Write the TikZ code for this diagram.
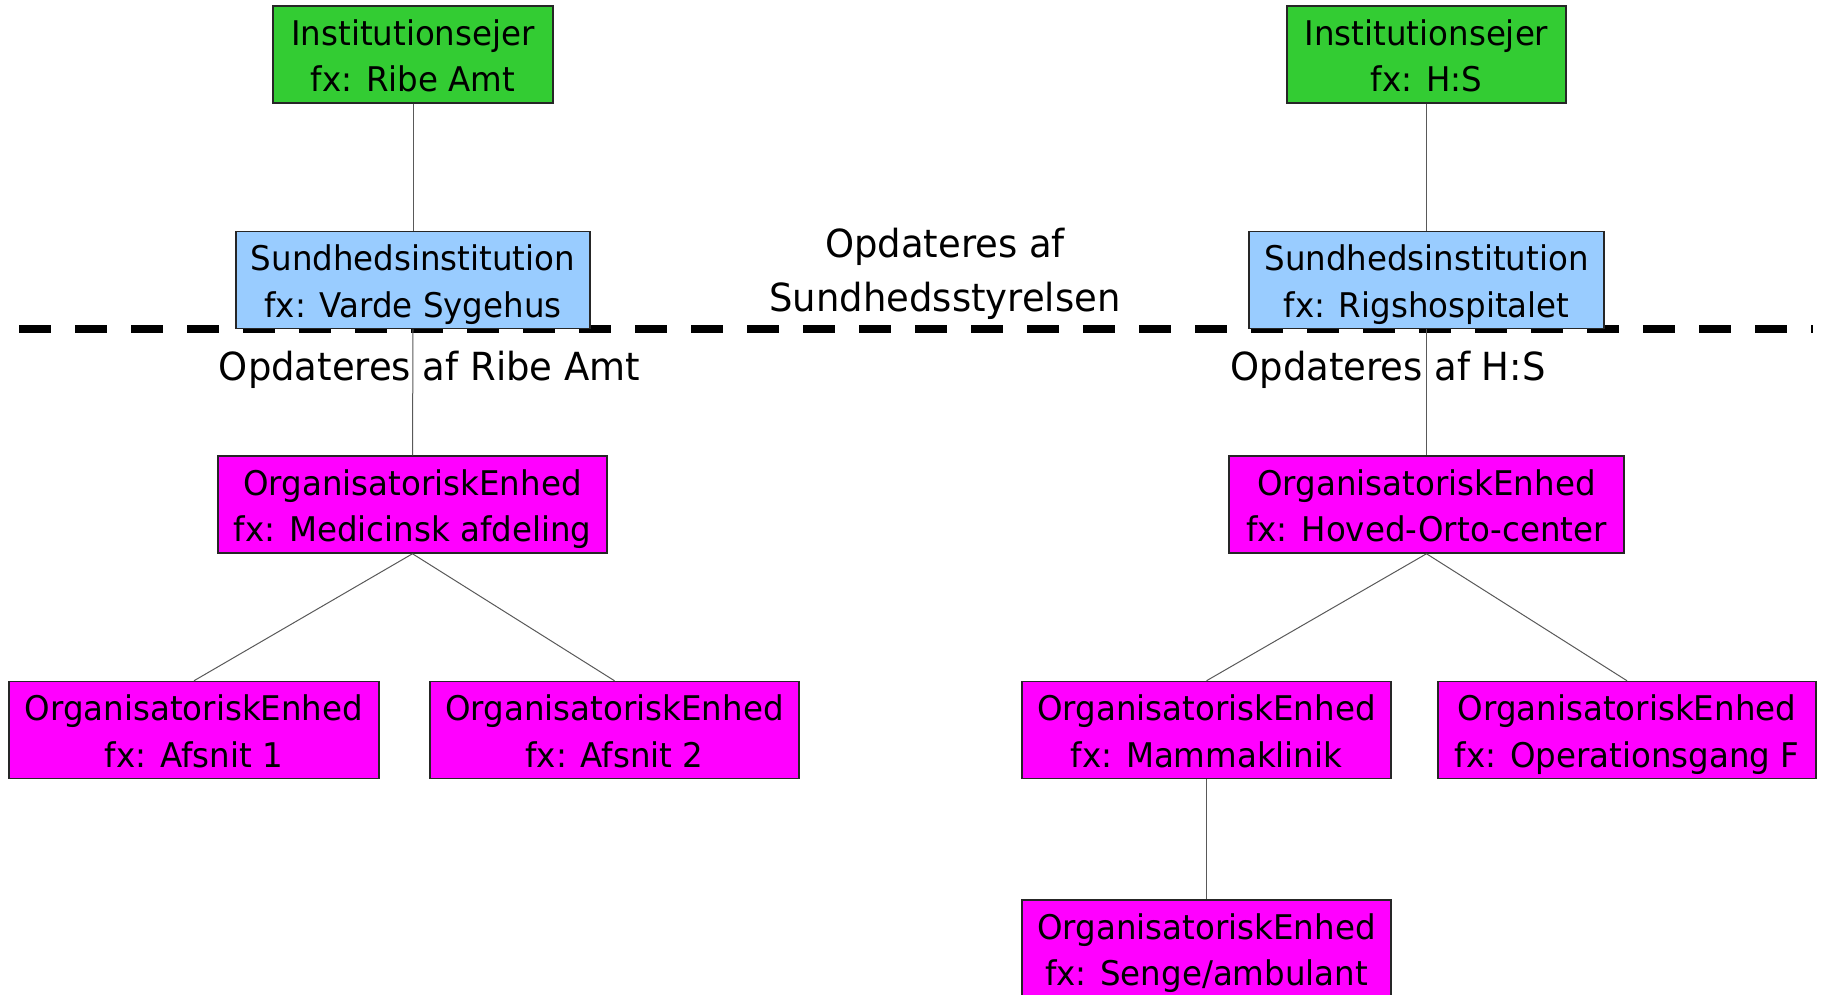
\documentclass[tikz,border=0pt]{standalone}
\usepackage{fontspec}
\setmainfont{DejaVu Sans}[FakeStretch=0.955]
\definecolor{gfill}{HTML}{33CC33}
\definecolor{bfill}{HTML}{99CCFF}
\definecolor{pfill}{HTML}{FF00FF}
\newcommand\boxfont{\fontsize{34}{46.5}\selectfont}
\newcommand\lblfont{\fontsize{38.7}{54}\selectfont}
\newcommand\twolines[2]{\raisebox{-4.6pt}[\height][\depth]{\begin{tabular}{@{}c@{}}#1\\#2\end{tabular}}}
\tikzset{
  box/.style={draw=black!85, line width=1.5pt, rectangle, inner sep=0pt,
    minimum height=97pt, font=\boxfont},
  greenbox/.style={box, fill=gfill},
  bluebox/.style={box, fill=bfill},
  pinkbox/.style={box, fill=pfill},
  conn/.style={draw=black!65, line width=1pt},
  divider/.style={draw=black, line width=8pt, dash pattern=on 31.7pt off 24.3pt},
  lbl/.style={font=\lblfont, inner sep=0pt}
}
\begin{document}
\begin{tikzpicture}[x=1pt,y=-1pt]
\useasboundingbox (0,0) rectangle (1821,995);
% dividing line
\coordinate (dashA) at (19.3,329);
\coordinate (dashB) at (1813,329);
\draw[divider] (dashA) -- (dashB);
% left tree
\node[greenbox, minimum width=280pt] (gL) at (413,54.5) {\twolines{Institutionsejer}{fx: Ribe Amt}};
\node[bluebox, minimum width=354pt] (bL) at (413,280) {\twolines{Sundhedsinstitution}{fx: Varde Sygehus}};
\node[pinkbox, minimum width=389pt] (mL) at (412.5,504.5) {\twolines{OrganisatoriskEnhed}{fx: Medicinsk afdeling}};
\node[pinkbox, minimum width=370pt] (a1) at (194,730) {\twolines{OrganisatoriskEnhed}{fx: Afsnit 1}};
\node[pinkbox, minimum width=369pt] (a2) at (614.5,730) {\twolines{OrganisatoriskEnhed}{fx: Afsnit 2}};
% right tree
\node[greenbox, minimum width=279pt] (gR) at (1426.5,54.5) {\twolines{Institutionsejer}{fx: H:S}};
\node[bluebox, minimum width=355pt] (bR) at (1426.5,280) {\twolines{Sundhedsinstitution}{fx: Rigshospitalet}};
\node[pinkbox, minimum width=395pt] (hR) at (1426.5,504.5) {\twolines{OrganisatoriskEnhed}{fx: Hoved-Orto-center}};
\node[pinkbox, minimum width=369pt] (mk) at (1206.5,730) {\twolines{OrganisatoriskEnhed}{fx: Mammaklinik}};
\node[pinkbox, minimum width=378pt] (op) at (1627,730) {\twolines{OrganisatoriskEnhed}{fx: Operationsgang F}};
\node[pinkbox, minimum width=369pt] (sg) at (1206.5,948.5) {\twolines{OrganisatoriskEnhed}{fx: Senge/ambulant}};
% connectors
\draw[conn] (gL.south) -- (bL.north);
\draw[conn] (bL.south) -- (mL.north);
\draw[conn] (mL.south) -- (a1.north);
\draw[conn] (mL.south) -- (a2.north);
\draw[conn] (gR.south) -- (bR.north);
\draw[conn] (bR.south) -- (hR.north);
\draw[conn] (hR.south) -- (mk.north);
\draw[conn] (hR.south) -- (op.north);
\draw[conn] (mk.south) -- (sg.north);
% labels
\node[lbl, anchor=base] (lRibe) at (429.5,380) {Opdateres af Ribe Amt};
\node[lbl, anchor=base] (lHS) at (1388,380) {Opdateres af H:S};
\node[lbl, anchor=base] (lSST) at (945,258) {\begin{tabular}[t]{@{}c@{}}Opdateres af\\Sundhedsstyrelsen\end{tabular}};
\end{tikzpicture}
\end{document}
